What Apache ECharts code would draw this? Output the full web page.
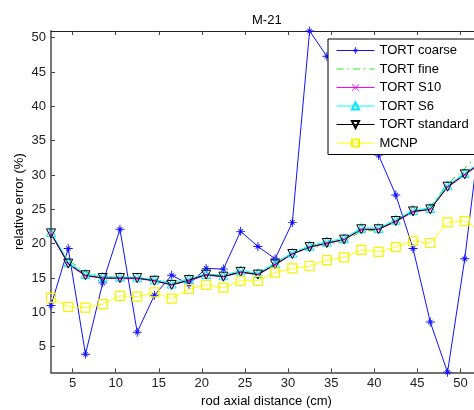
<!DOCTYPE html>
<html>
<head>
<meta charset="utf-8">
<script src="https://cdn.jsdelivr.net/npm/echarts@6/dist/echarts.min.js"></script>
<style>html,body{margin:0;padding:0;background:#fff}#c{width:474px;height:410px}</style>
</head>
<body>
<div id="c"></div>
<script>
var xs = [2.5,4.5,6.5,8.5,10.5,12.5,14.5,16.5,18.5,20.5,22.5,24.5,26.5,28.5,30.5,32.5,34.5,36.5,38.5,40.5,42.5,44.5,46.5,48.5,50.5,52.5];
var tortCoarse = [11.0,19.3,3.9,14.3,22.1,7.1,12.5,15.4,14.1,16.4,16.3,21.8,19.6,17.8,23.1,50.98,47.3,43.0,38.0,32.9,27.1,19.3,8.6,1.27,17.8,38.5];
var tortFine = [21.3,17.6,15.9,15.2,15.0,14.9,14.8,14.2,14.9,15.4,15.4,15.8,15.7,16.8,18.6,19.3,19.8,20.3,21.8,22.0,23.5,24.6,25.4,28.7,31.0,33.5];
var tortS10 = [21.4,17.0,15.3,15.0,14.9,14.9,14.6,14.0,14.6,15.4,15.2,15.8,15.5,16.9,18.5,19.5,20.0,20.6,22.0,22.1,23.2,24.6,25.0,28.2,30.0,31.8];
var tortS6 = [21.7,17.3,15.6,15.2,15.2,15.1,14.8,14.2,14.9,15.6,15.4,16.1,15.7,17.2,18.7,19.7,20.3,20.8,22.3,22.3,23.5,24.9,25.2,28.5,30.3,32.0];
var tortStandard = [21.5,17.1,15.4,15.0,15.0,15.0,14.6,14.0,14.7,15.5,15.2,15.9,15.5,17.0,18.5,19.5,20.1,20.6,22.1,22.1,23.3,24.7,25.0,28.3,30.1,31.9];
var mcnp = [12.1,10.8,10.7,11.2,12.4,12.3,12.9,12.0,13.4,14.0,13.6,14.6,14.6,15.8,16.4,16.75,17.6,18.0,19.1,18.8,19.5,20.4,20.1,23.1,23.3,21.7];
var xTicks = [5,10,15,20,25,30,35,40,45,50];
var yTicks = [5,10,15,20,25,30,35,40,45,50];
var seriesNames = ['TORT coarse','TORT fine','TORT S10','TORT S6','TORT standard','MCNP'];

function pairs(ys){ return xs.map(function(x,i){ return [x, ys[i]]; }); }

var asterisk = 'path://M9,0 L11,0 L11,20 L9,20 Z M0,9 L20,9 L20,11 L0,11 Z M4.34,5.76 L5.76,4.34 L15.66,14.24 L14.24,15.66 Z M4.34,14.24 L14.24,4.34 L15.66,5.76 L5.76,15.66 Z';
var xmark = 'path://M0,1.4 L1.4,0 L10,8.6 L18.6,0 L20,1.4 L11.4,10 L20,18.6 L18.6,20 L10,11.4 L1.4,20 L0,18.6 L8.6,10 Z';
var font = 'Liberation Sans, Arial, sans-serif';

var chart = echarts.init(document.getElementById('c'), null, {renderer:'canvas'});
chart.setOption({
  animation: false,
  backgroundColor: '#fff',
  title: {
    text: 'M-21', left: 247, top: 9,
    textStyle: {fontFamily: font, fontSize: 13, fontWeight: 'normal', color: '#000'}
  },
  grid: {left: 51, top: 31, width: 431, height: 341.3, containLabel: false, outerBoundsMode: 'none'},
  legend: {
    orient: 'vertical', left: 328, top: 39,
    backgroundColor: '#fff', borderColor: '#000', borderWidth: 1, borderRadius: 0,
    padding: [5, 8, 5, 8],
    itemWidth: 38, itemHeight: 9, itemGap: 5.5,
    lineStyle: {width: 1},
    textStyle: {fontFamily: font, fontSize: 13, color: '#000', lineHeight: 13},
    data: seriesNames
  },
  xAxis: [{
    type: 'value', min: 2.5, max: 52.5,
    name: 'rod axial distance (cm)', nameLocation: 'middle', nameGap: 23, nameMoveOverlap: false,
    nameTextStyle: {fontFamily: font, fontSize: 13, color: '#000'},
    axisLine: {show: true, lineStyle: {color: '#444', width: 1.5}},
    axisTick: {show: true, inside: true, length: 4, customValues: xTicks, lineStyle: {color: '#444'}},
    axisLabel: {customValues: xTicks, margin: 5, fontFamily: font, fontSize: 13, color: '#222'},
    splitLine: {show: false}
  }, {
    type: 'value', min: 2.5, max: 52.5, position: 'top',
    axisLine: {show: true, lineStyle: {color: '#222', width: 1}},
    axisTick: {show: true, inside: true, length: 4, customValues: xTicks, lineStyle: {color: '#444'}},
    axisLabel: {show: false},
    splitLine: {show: false}
  }],
  yAxis: [{
    type: 'value', min: 1.27, max: 50.98,
    name: 'relative error (%)', nameLocation: 'middle', nameGap: 25, nameMoveOverlap: false,
    nameTextStyle: {fontFamily: font, fontSize: 13, color: '#000'},
    axisLine: {show: true, lineStyle: {color: '#777', width: 2}},
    axisTick: {show: true, inside: true, length: 4, customValues: yTicks, lineStyle: {color: '#444'}},
    axisLabel: {customValues: yTicks, margin: 5, fontFamily: font, fontSize: 13, color: '#222'},
    splitLine: {show: false}
  }],
  series: [{
    name: 'TORT coarse', type: 'line', data: pairs(tortCoarse),
    symbol: asterisk, symbolSize: 9, showAllSymbol: true,
    lineStyle: {color: '#1010ff', width: 1},
    itemStyle: {color: '#1010ff'}
  }, {
    name: 'TORT fine', type: 'line', data: pairs(tortFine),
    symbol: 'circle', showSymbol: false,
    lineStyle: {color: '#22ee22', width: 1, type: [7, 4, 1.5, 4]},
    itemStyle: {color: 'rgba(255,255,255,0)', borderWidth: 0}
  }, {
    name: 'TORT S10', type: 'line', data: pairs(tortS10),
    symbol: xmark, symbolSize: 5,
    lineStyle: {color: '#ff00ff', width: 1},
    itemStyle: {color: '#ff00ff'}
  }, {
    name: 'TORT S6', type: 'line', data: pairs(tortS6),
    symbol: 'triangle', symbolSize: 9,
    lineStyle: {color: '#00ffff', width: 1},
    itemStyle: {color: 'rgba(255,255,255,0)', borderColor: '#00e8ff', borderWidth: 1}
  }, {
    name: 'TORT standard', type: 'line', data: pairs(tortStandard),
    symbol: 'triangle', symbolRotate: 180, symbolSize: 9,
    lineStyle: {color: '#000', width: 1},
    itemStyle: {color: 'rgba(255,255,255,0)', borderColor: '#000', borderWidth: 1}
  }, {
    name: 'MCNP', type: 'line', data: pairs(mcnp),
    symbol: 'rect', symbolSize: 9,
    lineStyle: {color: '#ffff00', width: 1},
    itemStyle: {color: 'rgba(255,255,255,0)', borderColor: '#f4f400', borderWidth: 1.2}
  }]
});
</script>
</body>
</html>
